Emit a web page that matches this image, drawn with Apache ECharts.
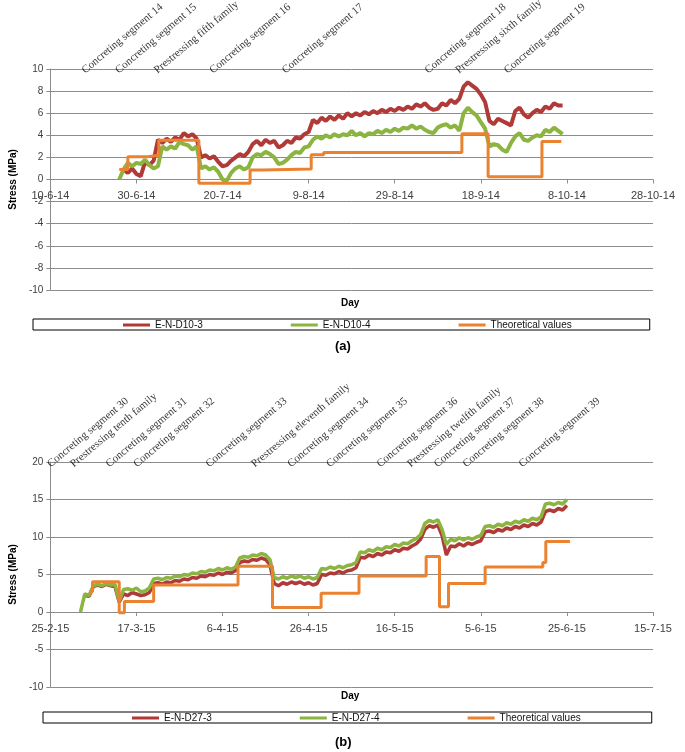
<!DOCTYPE html>
<html><head><meta charset="utf-8">
<script src="https://cdn.jsdelivr.net/npm/echarts@6/dist/echarts.min.js"></script>
<style>html,body{margin:0;padding:0;background:#fff}#c{width:685px;height:752px}</style>
</head><body><div id="c"></div>
<script>
// ---------- Panel (a) ----------
const TICKS_A = ['10-6-14','30-6-14','20-7-14','9-8-14','29-8-14','18-9-14','8-10-14','28-10-14']; // days since 10-6-14, step 20
const A_RED_START = 17;
const A_RED = [
  0.9,0.6,1.0,0.5,0.3,1.6,1.3,1.7,3.6,3.3,
  3.7,3.4,3.8,3.6,4.2,3.9,4.1,3.7,2.0,2.2,
  1.9,2.1,1.6,1.2,1.3,1.7,2.0,2.3,2.1,2.5,
  3.2,3.5,3.1,3.6,3.3,3.5,2.9,3.1,3.5,3.3,
  3.8,3.7,4.1,4.3,5.4,5.1,5.6,5.3,5.7,5.4,
  5.8,5.5,6.0,5.7,6.0,5.8,6.1,5.9,6.2,6.0,
  6.3,6.1,6.4,6.2,6.5,6.3,6.6,6.4,6.8,6.6,
  6.9,6.5,6.3,6.4,6.9,6.7,7.2,6.9,7.3,8.4,
  8.8,8.5,8.2,7.7,7.0,5.3,5.0,5.5,5.3,5.1,
  4.9,6.2,6.5,5.9,5.6,6.0,6.3,6.1,6.6,6.4,
  6.9,6.7,6.7
];
const A_GREEN_START = 16;
const A_GREEN = [
  0.0,0.9,1.5,1.2,1.5,1.4,1.8,1.3,1.0,1.2,
  3.0,2.7,3.0,2.8,3.4,3.2,3.1,2.7,3.0,1.0,
  1.2,0.9,1.1,0.7,0.0,-0.1,0.6,1.0,1.2,0.9,
  1.1,2.0,2.3,2.2,2.5,2.3,2.0,1.4,1.5,1.8,
  2.2,2.5,2.4,2.9,3.0,3.6,3.9,3.7,4.0,3.8,
  4.1,3.9,4.1,4.0,4.4,4.0,4.2,3.9,4.2,4.1,
  4.4,4.2,4.5,4.3,4.6,4.4,4.7,4.6,4.9,4.6,
  4.8,4.5,4.3,4.2,4.7,4.9,5.0,4.7,4.9,4.4,
  6.0,6.5,6.1,5.8,5.2,4.6,3.0,3.2,3.1,2.7,
  2.5,3.3,3.9,4.2,3.6,3.5,3.8,4.0,3.9,4.5,
  4.3,4.7,4.4,4.1
];
const A_THEO_DAYS = [16.0,18.0,22.6,25.2,34.5,46.4,49.3,60.6,63.5,95.6,101.7,114.2,118.7];
const A_THEO_VALS = [0.9,2.05,2.2,3.55,-0.35,0.85,0.95,2.25,2.45,4.15,0.25,3.45,3.45];
const A_EVENTS = ['Concreting segment 14','Concreting segment 15','Prestressing fifth family','Concreting segment 16','Concreting segment 17','Concreting segment 18','Prestressing sixth family','Concreting segment 19'];
const A_EVENT_DAYS = [8.5,16.3,25.3,38.2,55.0,88.2,95.3,106.6];
const A_NAMES = ['E-N-D10-3','E-N-D10-4','Theoretical values'];

// ---------- Panel (b) ----------
const TICKS_B = ['25-2-15','17-3-15','6-4-15','26-4-15','16-5-15','5-6-15','25-6-15','15-7-15']; // days since 25-2-15, step 20
const B_RED_START = 8;
const B_RED = [
  2.2,2.1,3.4,3.6,3.4,3.7,3.5,3.4,1.3,2.4,
  2.2,2.6,2.4,2.2,2.3,2.6,3.8,3.9,3.7,4.0,
  3.9,4.2,4.1,4.4,4.3,4.6,4.5,4.8,4.7,5.0,
  4.9,5.2,5.0,5.3,5.2,5.5,6.6,6.8,6.7,7.0,
  6.9,7.2,7.0,6.3,3.8,3.5,3.9,3.7,4.0,3.8,
  4.0,3.7,3.9,3.6,3.8,5.0,4.9,5.2,5.1,5.4,
  5.2,5.5,5.6,5.9,7.3,7.2,7.6,7.4,7.8,7.6,
  8.0,7.9,8.3,8.1,8.5,8.4,8.8,9.1,9.7,11.0,
  11.5,11.3,11.6,10.2,7.6,8.8,8.7,9.1,8.8,9.2,
  9.0,9.3,9.5,10.7,10.8,10.6,11.0,10.8,11.2,11.0,
  11.4,11.2,11.6,11.4,11.8,11.6,12.0,13.4,13.6,13.4,
  13.8,13.6,14.2
];
const B_GREEN_START = 7;
const B_GREEN = [
  0.0,2.4,2.2,3.5,3.7,3.5,3.8,3.6,3.7,1.4,
  3.0,3.1,2.9,3.2,2.7,2.8,3.2,4.4,4.5,4.3,
  4.6,4.5,4.8,4.7,5.0,4.9,5.2,5.1,5.4,5.3,
  5.6,5.5,5.8,5.6,5.9,5.7,6.0,7.2,7.4,7.3,
  7.6,7.5,7.8,7.6,7.0,4.6,4.4,4.7,4.5,4.8,
  4.6,4.8,4.5,4.7,4.4,4.6,5.8,5.7,6.0,5.8,
  6.1,5.9,6.2,6.3,6.6,8.0,7.9,8.3,8.1,8.5,
  8.3,8.7,8.6,9.0,8.8,9.2,9.1,9.5,9.8,10.3,
  11.8,12.2,12.0,12.3,11.0,9.0,9.7,9.5,9.9,9.6,
  9.9,9.7,10.0,10.2,11.4,11.5,11.3,11.7,11.5,11.9,
  11.7,12.1,11.9,12.3,12.1,12.5,12.3,12.7,14.4,14.5,
  14.3,14.6,14.4,15.0
];
const B_THEO_DAYS = [9.0,9.8,16.0,17.2,24.0,43.6,51.6,62.9,71.7,87.3,90.4,92.5,101.0,114.4,115.1,120.7];
const B_THEO_VALS = [2.7,4.05,-0.1,1.4,3.6,6.1,0.6,2.5,4.8,7.4,0.7,3.8,6.0,6.6,9.4,9.4];
const B_EVENTS = ['Concreting segment 30','Prestressing tenth family','Concreting segment 31','Concreting segment 32','Concreting segment 33','Prestressing eleventh family','Concreting segment 34','Concreting segment 35','Concreting segment 36','Prestressing twelfth family','Concreting segment 37','Concreting segment 38','Concreting segment 39'];
const B_EVENT_DAYS = [0.5,5.8,14.1,20.5,37.3,47.9,56.3,65.3,77.0,84.1,90.3,97.0,110.0];
const B_NAMES = ['E-N-D27-3','E-N-D27-4','Theoretical values'];

// ---------- styling ----------
const RED = '#B03A37', GREEN = '#8BB440', ORANGE = '#EA8230';
const SANS = 'Liberation Sans', SERIF = 'Liberation Serif';
const GRIDC = '#8c8c8c';
const GA = {left:45, top:69, width:608, height:221};
const GB = {left:43, top:462, width:610, height:225};

function daily(start, vals){ return vals.map((v,i)=>[start+i, v]); }
function steps(days, vals){ return days.map((d,i)=>[d, vals[i]]); }
function events(days, names, y){ return days.map((d,i)=>({name:names[i], value:[d, y]})); }

// x axis drawn on the y=0 line: offset upward by the share of the plot below zero
function xAx(grid, ticks, g, ymin, ymax){
  return {type:'value', gridIndex:grid, min:0, max:140, interval:20, position:'bottom',
    offset: -g.height * (0 - ymin) / (ymax - ymin),
    axisLine:{show:true, onZero:false, lineStyle:{color:GRIDC, width:1}},
    axisTick:{show:true, length:4, lineStyle:{color:GRIDC}},
    axisLabel:{fontFamily:SANS, fontSize:11, color:'#404040', margin:11,
      formatter:v=>ticks[Math.round(v/20)]},
    splitLine:{show:false}};
}
function yAx(grid, min, max, step, gap){
  return {type:'value', gridIndex:grid, min:min, max:max, interval:step,
    name:'Stress (MPa)', nameLocation:'middle', nameGap:gap, nameRotate:90,
    nameTextStyle:{fontFamily:SANS, fontSize:10, fontWeight:'bold', color:'#000'},
    axisLine:{show:true, lineStyle:{color:GRIDC, width:1}},
    axisTick:{show:true, length:4, lineStyle:{color:GRIDC}},
    axisLabel:{fontFamily:SANS, fontSize:10, color:'#404040', margin:7},
    splitLine:{show:true, lineStyle:{color:GRIDC, width:1}}};
}
function lineS(name, data, color, xi, w){
  return {name:name, type:'line', xAxisIndex:xi, yAxisIndex:xi, data:data, showSymbol:false,
    symbol:'none', lineStyle:{color:color, width:w}, itemStyle:{color:color}, silent:true};
}
function stepS(name, data, xi){
  return {name:name, type:'line', step:'end', xAxisIndex:xi, yAxisIndex:xi, data:data, showSymbol:false,
    symbol:'none', lineStyle:{color:ORANGE, width:3}, itemStyle:{color:ORANGE}, silent:true};
}
function evS(data, xi){
  return {type:'scatter', xAxisIndex:xi, yAxisIndex:xi, data:data, symbolSize:0, silent:true, z:10,
    label:{show:true, formatter:p=>p.name, position:'inside', align:'left', verticalAlign:'bottom',
      rotate:40, fontFamily:SERIF, fontSize:11, color:'#000'}};
}
function legend(names, left, top, padL, padR, gap){
  return {data:names, left:left, top:top, orient:'horizontal', itemGap:gap, itemWidth:27, itemHeight:3,
    icon:'rect', padding:[1,padR,0,padL], borderColor:'#000', borderWidth:1,
    textStyle:{fontFamily:SANS, fontSize:10, color:'#111', lineHeight:10}, selectedMode:false};
}

const chart = echarts.init(document.getElementById('c'), null, {renderer:'canvas'});
chart.setOption({
  animation:false,
  backgroundColor:'#fff',
  grid:[GA, GB],
  xAxis:[xAx(0, TICKS_A, GA, -10, 10), xAx(1, TICKS_B, GB, -10, 20)],
  yAxis:[yAx(0,-10,10,2,30), yAx(1,-10,20,5,28)],
  legend:[legend(A_NAMES, 33, 319, 90, 78, 88), legend(B_NAMES, 43, 712, 89, 71, 88)],
  graphic:[
    {type:'text', left:341, top:298, style:{text:'Day', font:'bold 10px "Liberation Sans"', fill:'#000'}},
    {type:'text', left:335, top:340, style:{text:'(a)', font:'bold 13px "Liberation Sans"', fill:'#000'}},
    {type:'text', left:341, top:691, style:{text:'Day', font:'bold 10px "Liberation Sans"', fill:'#000'}},
    {type:'text', left:335, top:736, style:{text:'(b)', font:'bold 13px "Liberation Sans"', fill:'#000'}}
  ],
  series:[
    lineS(A_NAMES[0], daily(A_RED_START, A_RED), RED, 0, 4),
    lineS(A_NAMES[1], daily(A_GREEN_START, A_GREEN), GREEN, 0, 4),
    stepS(A_NAMES[2], steps(A_THEO_DAYS, A_THEO_VALS), 0),
    evS(events(A_EVENT_DAYS, A_EVENTS, 9.4), 0),
    lineS(B_NAMES[0], daily(B_RED_START, B_RED), RED, 1, 3.5),
    lineS(B_NAMES[1], daily(B_GREEN_START, B_GREEN), GREEN, 1, 3.5),
    stepS(B_NAMES[2], steps(B_THEO_DAYS, B_THEO_VALS), 1),
    evS(events(B_EVENT_DAYS, B_EVENTS, 19.0), 1)
  ]
});
</script></body></html>
